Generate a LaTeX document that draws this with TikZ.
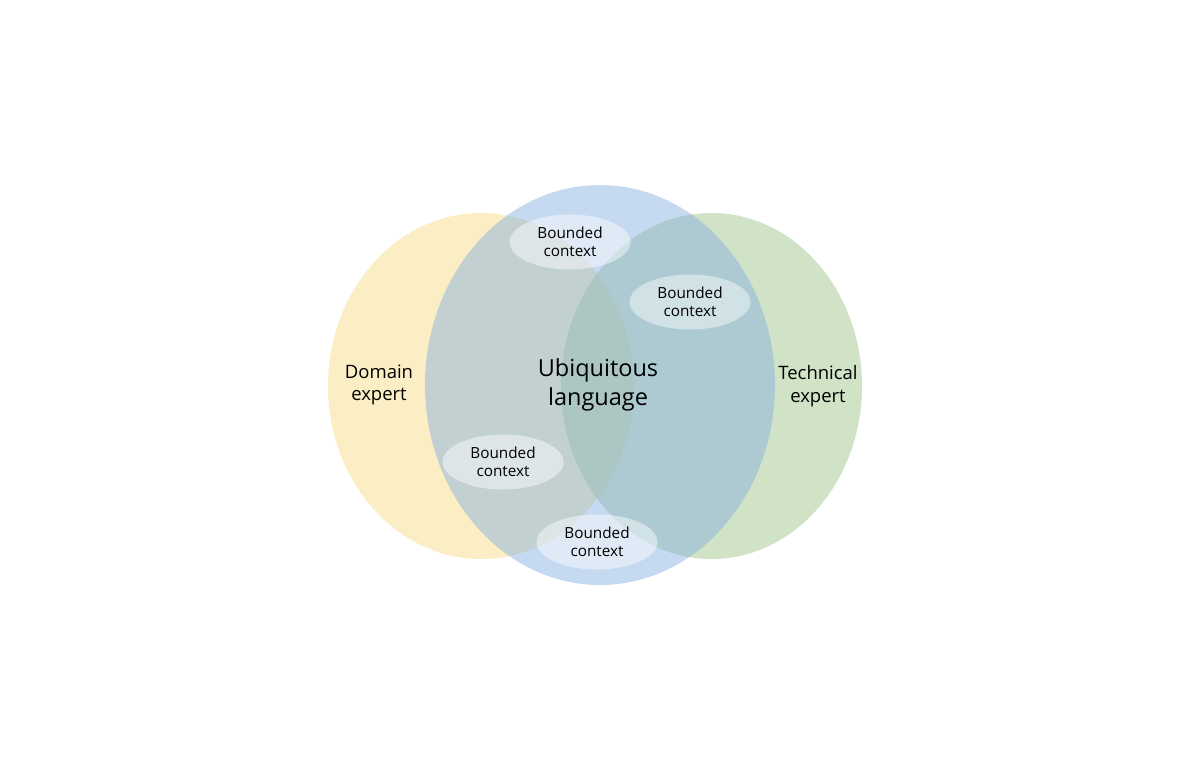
\documentclass[tikz,border=0pt]{standalone}
\usepackage{fontspec}
\setmainfont{Open Sans}
\usepackage{xcolor}
\usetikzlibrary{shapes.geometric}
\definecolor{domainyellow}{RGB}{247,221,137}
\definecolor{langblue}{RGB}{139,179,225}
\definecolor{techgreen}{RGB}{161,199,141}
\tikzset{bounded/.style={ellipse, fill=white, fill opacity=0.45, text opacity=1, minimum width=121pt, minimum height=55pt, inner sep=0pt, align=center, font=\fontsize{15.3}{18}\selectfont},
    label text/.style={align=center, font=\fontsize{18.5}{22.5}\selectfont}}

\begin{document}
\begin{tikzpicture}[x=1pt, y=-1pt]
    \useasboundingbox (0,0) rectangle (1204,778);
    \fill[domainyellow, opacity=0.5] (481,386) ellipse (153 and 173);
    \fill[techgreen, opacity=0.5] (711.5,386) ellipse (150.5 and 173);
    \fill[langblue, opacity=0.5] (600,385) ellipse (175 and 200);
    \node[label text] (domain) at (379,385) {Domain\\expert};
    \node[label text] (tech) at (818,386) {Technical\\expert};
    \node[align=center, font=\fontsize{23.5}{29}\selectfont] (ubiq) at (598,385) {Ubiquitous\\language};
    \node[bounded] (bc1) at (570,242) {Bounded\\context};
    \node[bounded] (bc2) at (690,302) {Bounded\\context};
    \node[bounded] (bc3) at (503,462) {Bounded\\context};
    \node[bounded] (bc4) at (597,542) {Bounded\\context};
\end{tikzpicture}
\end{document}
